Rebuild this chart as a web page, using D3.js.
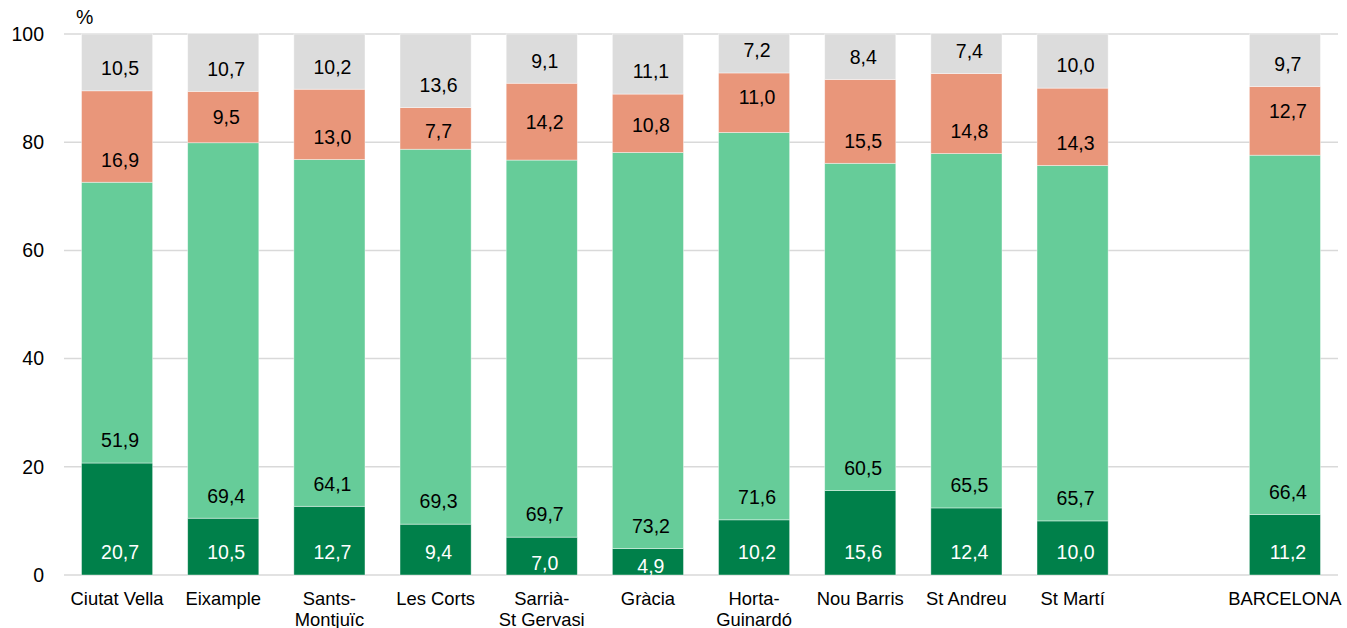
<!DOCTYPE html>
<html>
<head>
<meta charset="utf-8">
<script src="https://cdn.jsdelivr.net/npm/d3@7"></script>
<style>
  html, body { margin: 0; padding: 0; background: #fff; }
  svg { display: block; font-family: "Liberation Sans", Arial, sans-serif; }
</style>
</head>
<body>
<svg id="chart" width="1347" height="628"></svg>
<script>
// Districts of Barcelona plus the city total (line breaks mark wrapped labels)
const categories = [
  "Ciutat Vella", "Eixample", "Sants-\nMontjuïc", "Les Corts", "Sarrià-\nSt Gervasi",
  "Gràcia", "Horta-\nGuinardó", "Nou Barris", "St Andreu", "St Martí", "BARCELONA"
];

// Share of each group, %, stacked bottom to top
const seriesDark   = [20.7, 10.5, 12.7,  9.4,  7.0,  4.9, 10.2, 15.6, 12.4, 10.0, 11.2];
const seriesLight  = [51.9, 69.4, 64.1, 69.3, 69.7, 73.2, 71.6, 60.5, 65.5, 65.7, 66.4];
const seriesOrange = [16.9,  9.5, 13.0,  7.7, 14.2, 10.8, 11.0, 15.5, 14.8, 14.3, 12.7];
const seriesGrey   = [10.5, 10.7, 10.2, 13.6,  9.1, 11.1,  7.2,  8.4,  7.4, 10.0,  9.7];

const yTicks = [0, 20, 40, 60, 80, 100];

// Series styling
const series = [
  { key: "dark",   values: seriesDark,   fill: "#00804a", text: "#ffffff" },
  { key: "light",  values: seriesLight,  fill: "#66cc99", text: "#000000" },
  { key: "orange", values: seriesOrange, fill: "#e9967a", text: "#000000" },
  { key: "grey",   values: seriesGrey,   fill: "#dcdcdc", text: "#000000" }
];

// Hand-placed label adjustments (pixels, positive = down)
const labelNudge = {
  dark:   { "Sarrià-\nSt Gervasi": 10.5, "Gràcia": 13.5 },
  orange: { "Eixample": -3.5, "Les Corts": 4.2, "Sarrià-\nSt Gervasi": -15,
            "Gràcia": -5, "Horta-\nGuinardó": -12.8, "BARCELONA": -21.5 }
};

const svg = d3.select("#chart");
const margin = { left: 64, right: 9, top: 34, bottom: 53 };
const W = 1347, H = 628;

// An empty slot separates the districts from the city total
const GAP = "__gap__";
const domain = categories.slice(0, 10).concat([GAP], categories.slice(10));

const x = d3.scaleBand()
  .domain(domain)
  .range([margin.left, W - margin.right])
  .paddingInner(0.33)
  .paddingOuter(0.165);

const y = d3.scaleLinear()
  .domain([0, 100])
  .range([H - margin.bottom, margin.top]);

// Horizontal gridlines
svg.append("g")
  .selectAll("line")
  .data(yTicks)
  .join("line")
  .attr("x1", margin.left)
  .attr("x2", W - margin.right)
  .attr("y1", d => y(d))
  .attr("y2", d => y(d))
  .attr("stroke", "#d9d9d9")
  .attr("stroke-width", 1.5);

// Stack the rows
const rows = categories.map((c, i) => {
  const r = { cat: c };
  series.forEach(s => { r[s.key] = s.values[i]; });
  return r;
});
const stacked = d3.stack().keys(series.map(s => s.key))(rows);

const layers = svg.append("g")
  .selectAll("g")
  .data(stacked)
  .join("g")
  .attr("fill", (d, i) => series[i].fill);

layers.selectAll("rect")
  .data(d => d)
  .join("rect")
  .attr("x", d => x(d.data.cat))
  .attr("width", x.bandwidth())
  .attr("y", d => y(d[1]))
  .attr("height", d => y(d[0]) - y(d[1]))
  .attr("stroke", "rgba(255,255,255,0.55)")
  .attr("stroke-width", 0.75);

// Value labels, placed just above the base of each segment
const fmt = v => d3.format(".1f")(v).replace(".", ",");
const labelSize = 19.5;
stacked.forEach((layer, i) => {
  const s = series[i];
  const nudges = labelNudge[s.key] || {};
  svg.append("g")
    .selectAll("text")
    .data(layer)
    .join("text")
    .attr("x", d => x(d.data.cat) + x.bandwidth() / 2 + 3)
    .attr("y", d => y(d[0]) - 22.7 + (nudges[d.data.cat] || 0))
    .attr("dy", "0.36em")
    .attr("text-anchor", "middle")
    .attr("font-size", labelSize)
    .attr("fill", s.text)
    .text(d => fmt(d.data[s.key]));
});

// Y axis (labels only)
const yAxis = svg.append("g")
  .attr("transform", `translate(${margin.left},0)`)
  .call(d3.axisLeft(y).tickValues(yTicks).tickSize(0).tickPadding(20));
yAxis.select(".domain").remove();
yAxis.selectAll("text")
  .attr("font-size", 19.5)
  .attr("fill", "#000")
  .attr("font-family", "Liberation Sans, Arial, sans-serif");

svg.append("text")
  .attr("x", 76)
  .attr("y", 24)
  .attr("font-size", 19.5)
  .attr("fill", "#000")
  .text("%");

// X axis with wrapped category labels
const xAxis = svg.append("g")
  .attr("transform", `translate(0,${H - margin.bottom})`)
  .call(d3.axisBottom(x).tickSize(0).tickFormat(d => d === GAP ? "" : d));
xAxis.select(".domain").remove();
xAxis.selectAll(".tick text").each(function(d) {
  const t = d3.select(this);
  const lines = d === GAP ? [] : d.split("\n");
  t.text(null)
    .attr("y", 29.5)
    .attr("dy", null)
    .attr("font-size", 18.4)
    .attr("fill", "#000")
    .attr("font-family", "Liberation Sans, Arial, sans-serif");
  lines.forEach((ln, k) => {
    t.append("tspan")
      .attr("x", 0)
      .attr("dy", k === 0 ? 0 : 21.5)
      .text(ln);
  });
});
</script>
</body>
</html>
